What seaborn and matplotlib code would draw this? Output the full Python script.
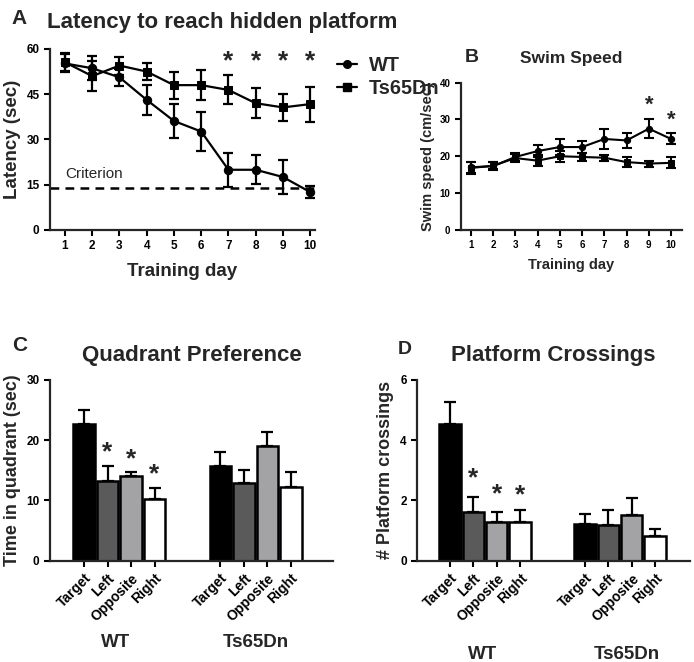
import numpy as np
import pandas as pd
import matplotlib
matplotlib.use("Agg")
import matplotlib.pyplot as plt
from matplotlib.lines import Line2D
import seaborn as sns

# ---- data ----
days = [1, 2, 3, 4, 5, 6, 7, 8, 9, 10]

latency_wt = [55.2, 53.6, 50.6, 43.1, 36.1, 32.6, 19.9, 19.9, 17.5, 12.5]
latency_wt_err = [3.0, 4.0, 2.8, 5.1, 5.6, 6.6, 5.7, 4.8, 5.6, 2.0]
latency_ts = [55.6, 51.0, 54.5, 52.5, 48.0, 48.0, 46.4, 42.0, 40.6, 41.7]
latency_ts_err = [3.0, 5.0, 3.0, 2.8, 4.5, 5.0, 4.8, 5.0, 4.5, 5.8]
latency_sig_days = [7, 8, 9, 10]
criterion = 14.0

speed_wt = [17.0, 17.3, 19.8, 21.4, 22.5, 22.5, 24.7, 24.3, 27.5, 24.7]
speed_wt_err = [1.5, 1.0, 1.2, 1.6, 2.2, 1.6, 2.6, 2.0, 2.6, 1.5]
speed_ts = [16.8, 17.4, 19.5, 18.8, 20.0, 19.8, 19.6, 18.4, 18.0, 18.2]
speed_ts_err = [1.6, 1.0, 1.2, 1.4, 1.5, 1.0, 0.8, 1.4, 0.8, 1.5]
speed_sig_days = [9, 10]

groups = ["WT", "Ts65Dn"]
quadrants = ["Target", "Left", "Opposite", "Right"]
quad_colors = ["#000000", "#5a5a5a", "#a3a3a5", "#ffffff"]

time_wt = [22.65, 13.3, 14.0, 10.2]
time_wt_err = [2.35, 2.4, 0.8, 1.95]
time_ts = [15.8, 12.9, 19.1, 12.3]
time_ts_err = [2.2, 2.2, 2.2, 2.5]
time_sig = ["Left", "Opposite", "Right"]

cross_wt = [4.53, 1.63, 1.27, 1.27]
cross_wt_err = [0.75, 0.48, 0.34, 0.43]
cross_ts = [1.22, 1.2, 1.52, 0.81]
cross_ts_err = [0.34, 0.5, 0.56, 0.25]
cross_sig = ["Left", "Opposite", "Right"]

sns.set_style("ticks")
plt.rcParams["font.family"] = ["Liberation Sans", "DejaVu Sans"]
plt.rcParams["font.weight"] = "bold"
plt.rcParams["axes.labelweight"] = "bold"
plt.rcParams["axes.titleweight"] = "bold"
plt.rcParams["axes.linewidth"] = 1.6
plt.rcParams["xtick.major.width"] = 1.5
plt.rcParams["ytick.major.width"] = 1.5
plt.rcParams["xtick.major.size"] = 4
plt.rcParams["ytick.major.size"] = 4
plt.rcParams["xtick.color"] = "black"
plt.rcParams["ytick.color"] = "black"

fig = plt.figure(figsize=(6.94, 6.62), dpi=100)
axA = fig.add_axes([0.072, 0.653, 0.382, 0.273])
axB = fig.add_axes([0.664, 0.653, 0.319, 0.222])
axC = fig.add_axes([0.072, 0.153, 0.408, 0.273])
axD = fig.add_axes([0.601, 0.153, 0.393, 0.273])


def line_panel(ax, wt, wt_err, ts, ts_err, ms, lw):
    df = pd.DataFrame({"day": days * 2, "value": wt + ts,
                       "genotype": ["WT"] * len(days) + ["Ts65Dn"] * len(days)})
    sns.lineplot(data=df, x="day", y="value", hue="genotype", style="genotype",
                 markers={"WT": "o", "Ts65Dn": "s"}, dashes=False,
                 palette={"WT": "black", "Ts65Dn": "black"},
                 markersize=ms, linewidth=lw, markeredgecolor="black",
                 legend=False, ax=ax)
    ax.errorbar(days, wt, yerr=wt_err, fmt="none", ecolor="black",
                elinewidth=lw, capsize=3.5, capthick=lw)
    ax.errorbar(days, ts, yerr=ts_err, fmt="none", ecolor="black",
                elinewidth=lw, capsize=3.5, capthick=lw)
    ax.set_xticks(days)
    sns.despine(ax=ax)


# ---- A: latency ----
line_panel(axA, latency_wt, latency_wt_err, latency_ts, latency_ts_err, 6, 1.6)
axA.set_xlim(0.45, 10.18)
axA.set_ylim(0, 60)
axA.set_yticks([0, 15, 30, 45, 60])
axA.tick_params(labelsize=8.5)
axA.set_xlabel("Training day", fontsize=13.5, labelpad=8)
axA.set_ylabel("Latency (sec)", fontsize=13.5, labelpad=4)
axA.axhline(criterion, color="black", lw=1.8, ls=(0, (3.5, 2.5)))
axA.text(1.0, criterion + 2.2, "Criterion", fontsize=11, fontweight="normal",
         va="bottom")
for d in latency_sig_days:
    axA.text(d, 52.0, "*", fontsize=19, ha="center", va="bottom")
axA.set_title("Latency to reach hidden platform", fontsize=16, loc="left",
              x=-0.01, y=1.07)
fig.text(0.017, 0.972, "A", fontsize=15, va="center")

# legend
handles = [Line2D([], [], color="black", marker="o", lw=1.6, ms=5.5),
           Line2D([], [], color="black", marker="s", lw=1.6, ms=5.5)]
fig.legend(handles, ["WT", "Ts65Dn"], loc="upper left",
           bbox_to_anchor=(0.46, 0.942), frameon=False, fontsize=14.3,
           handlelength=1.0, handletextpad=0.6, labelspacing=0.2)

# ---- B: swim speed ----
line_panel(axB, speed_wt, speed_wt_err, speed_ts, speed_ts_err, 4.5, 1.5)
axB.set_xlim(0.55, 10.5)
axB.set_ylim(0, 40)
axB.set_yticks([0, 10, 20, 30, 40])
axB.tick_params(labelsize=7)
axB.set_xlabel("Training day", fontsize=10.5, labelpad=6)
axB.set_ylabel("Swim speed (cm/sec)", fontsize=10.5, labelpad=3)
star_b = {9: 31.0, 10: 27.0}
for d in speed_sig_days:
    axB.text(d, star_b[d], "*", fontsize=16, ha="center", va="bottom")
axB.set_title("Swim Speed", fontsize=12.5, y=1.08)
fig.text(0.670, 0.913, "B", fontsize=14, va="center")

# ---- C and D: bar panels ----
group_offset = 5.8


def bar_panel(ax, wt, wt_err, ts, ts_err, sig, star_y):
    pos = [i for i in range(len(quadrants))] + \
          [i + group_offset for i in range(len(quadrants))]
    df = pd.DataFrame({"pos": pos, "value": wt + ts,
                       "quadrant": quadrants * 2})
    sns.barplot(data=df, x="pos", y="value", hue="quadrant",
                palette=dict(zip(quadrants, quad_colors)), native_scale=True,
                dodge=False, width=0.92, edgecolor="black", linewidth=1.8,
                legend=False, errorbar=None, ax=ax)
    err = wt_err + ts_err
    ax.errorbar(pos, df["value"], yerr=[np.zeros(len(err)), err], fmt="none",
                ecolor="black", elinewidth=1.6, capsize=4.5, capthick=1.6,
                zorder=1)
    ax.set_xticks(pos)
    ax.set_xticklabels(quadrants * 2, rotation=45, ha="right",
                       rotation_mode="anchor", fontsize=10)
    ax.tick_params(axis="y", labelsize=8.5)
    ax.set_xlabel("")
    for q in sig:
        i = quadrants.index(q)
        ax.text(pos[i], star_y[q], "*", fontsize=19, ha="center",
                va="center")
    sns.despine(ax=ax)
    return pos


posC = bar_panel(axC, time_wt, time_wt_err, time_ts, time_ts_err, time_sig,
                 {"Left": 18.0, "Opposite": 16.9, "Right": 14.4})
axC.set_xlim(-1.45, 10.6)
axC.set_ylim(0, 30)
axC.set_yticks([0, 10, 20, 30])
axC.set_ylabel("Time in quadrant (sec)", fontsize=13, labelpad=4)
axC.set_title("Quadrant Preference", fontsize=16, y=1.06)
fig.text(0.017, 0.478, "C", fontsize=15, va="center")
fig.text(0.166, 0.030, "WT", fontsize=13.5, ha="center", va="center")
fig.text(0.368, 0.030, "Ts65Dn", fontsize=13.5, ha="center", va="center")

posD = bar_panel(axD, cross_wt, cross_wt_err, cross_ts, cross_ts_err,
                 cross_sig, {"Left": 2.75, "Opposite": 2.22, "Right": 2.18})
axD.set_xlim(-1.42, 10.3)
axD.set_ylim(0, 6)
axD.set_yticks([0, 2, 4, 6])
axD.set_ylabel("# Platform crossings", fontsize=13, labelpad=4)
axD.set_title("Platform Crossings", fontsize=16, y=1.06, x=0.5)
fig.text(0.573, 0.472, "D", fontsize=14, va="center")
fig.text(0.695, 0.012, "WT", fontsize=13.5, ha="center", va="center")
fig.text(0.903, 0.012, "Ts65Dn", fontsize=13.5, ha="center", va="center")

fig.savefig("out.png", dpi=100)
